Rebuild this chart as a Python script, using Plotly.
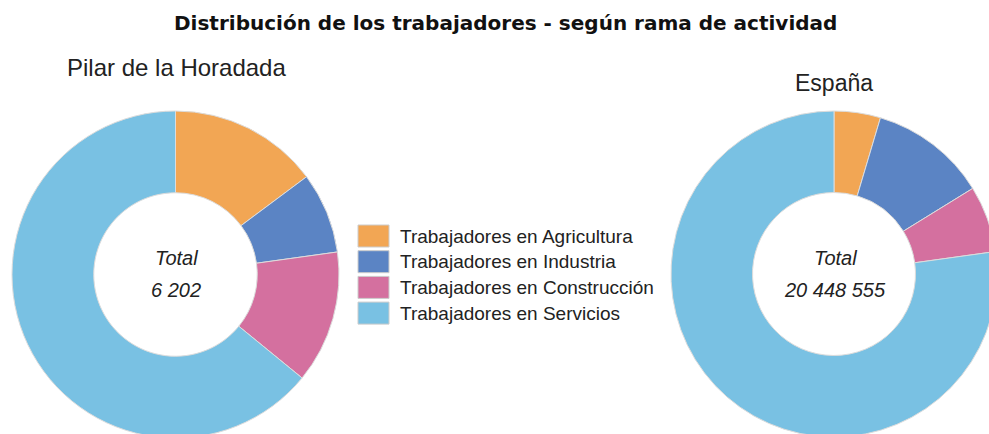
import plotly.graph_objects as go

# data
categories = ["Trabajadores en Agricultura", "Trabajadores en Industria",
              "Trabajadores en Construcción", "Trabajadores en Servicios"]
pilar_values = [918, 496, 813, 3975]
espana_values = [940600, 2372000, 1349600, 15786355]
pilar_total = "6 202"
espana_total = "20 448 555"
colors = ["#F2A654", "#5B84C4", "#D4709F", "#79C1E3"]

W, H = 1000, 440


def px(x):
    return x / W


def py(y):
    return 1 - y / H


fig = go.Figure()

pie_style = dict(hole=0.5, sort=False, direction="clockwise", rotation=0,
                 textinfo="none", showlegend=False,
                 marker=dict(colors=colors, line=dict(color="#dcdcdc", width=1)))

fig.add_trace(go.Pie(labels=categories, values=pilar_values, name="Pilar de la Horadada",
                     domain=dict(x=[px(12), px(339)], y=[py(438), py(111)]), **pie_style))
fig.add_trace(go.Pie(labels=categories, values=espana_values, name="España",
                     domain=dict(x=[px(671), px(997)], y=[py(437), py(111)]), **pie_style))

annotations = []
# chart titles
annotations.append(dict(text="<b>Distribución de los trabajadores - según rama de actividad</b>",
                         x=px(505), y=py(23), font=dict(family="DejaVu Sans", size=20, color="#111")))
annotations.append(dict(text="Pilar de la Horadada", x=px(176), y=py(67),
                        font=dict(family="Liberation Sans, Arial", size=24, color="#222")))
annotations.append(dict(text="España", x=px(834), y=py(83),
                        font=dict(family="Liberation Sans, Arial", size=23, color="#222")))

# totals inside the holes
for cx, total in [(176, pilar_total), (835, espana_total)]:
    annotations.append(dict(text="<i>Total</i>", x=px(cx), y=py(258),
                            font=dict(family="Liberation Sans, Arial", size=20, color="#222")))
    annotations.append(dict(text="<i>" + total + "</i>", x=px(cx), y=py(290),
                            font=dict(family="Liberation Sans, Arial", size=20, color="#222")))

# legend drawn by hand (wide colour boxes)
shapes = []
for i, (cat, col) in enumerate(zip(categories, colors)):
    top = 225 + i * 25.7
    shapes.append(dict(type="rect", xref="paper", yref="paper",
                       x0=px(358), x1=px(389), y0=py(top + 22), y1=py(top),
                       fillcolor=col, line=dict(color="#cccccc", width=1)))
    annotations.append(dict(text=cat, x=px(398), y=py(top + 11), xanchor="left",
                            font=dict(family="Liberation Sans, Arial", size=19, color="#222")))

for a in annotations:
    a.setdefault("xref", "paper")
    a.setdefault("yref", "paper")
    a.setdefault("showarrow", False)
    a.setdefault("xanchor", "center")
    a.setdefault("yanchor", "middle")

fig.update_layout(width=W, height=H, margin=dict(l=0, r=0, t=0, b=0),
                  paper_bgcolor="white", plot_bgcolor="white",
                  annotations=annotations, shapes=shapes)

fig.write_html("out.html", config={"displayModeBar": False},
               post_script="document.body.style.margin='0';document.body.style.overflow='hidden';")
